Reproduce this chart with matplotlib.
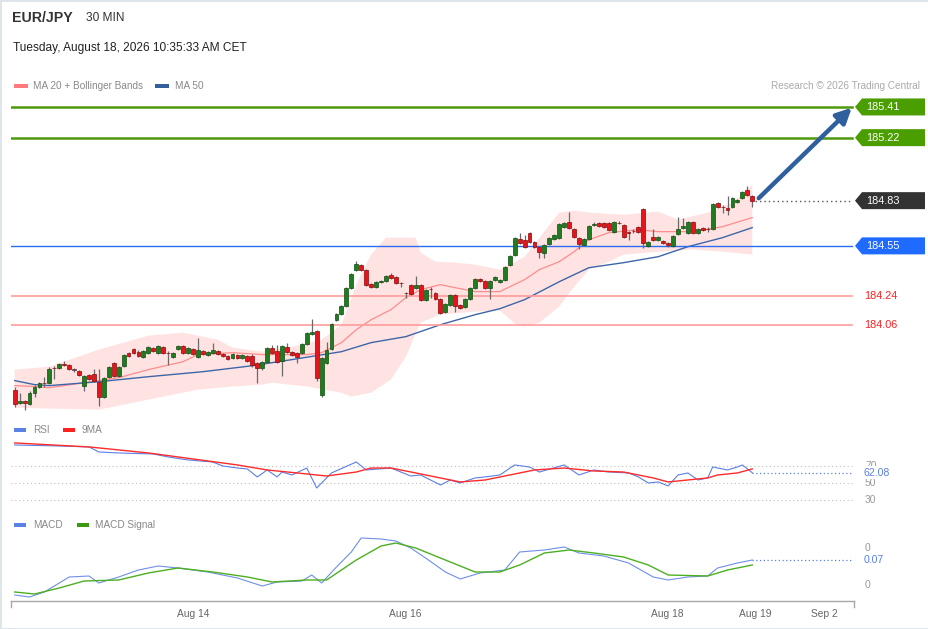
import numpy as np
import matplotlib
matplotlib.use("Agg")
import matplotlib.pyplot as plt
from matplotlib.patches import Polygon, Rectangle

plt.rcParams['font.family'] = ['Liberation Sans', 'DejaVu Sans']

# ---------------- data ----------------
opens = [183.660,183.579,183.592,183.573,183.641,183.679,183.703,183.703,183.796,183.796,
         183.821,183.815,183.784,183.778,183.685,183.753,183.759,183.709,183.617,183.740,
         183.827,183.747,183.809,183.889,183.914,183.895,183.864,183.889,183.920,183.889,
         183.926,183.889,183.864,183.914,183.932,183.889,183.914,183.864,183.901,183.877,
         183.889,183.901,183.883,183.870,183.858,183.877,183.858,183.870,183.870,183.827,
         183.796,183.833,183.920,183.901,183.840,183.926,183.895,183.889,183.889,183.945,
         184.007,184.025,183.629,183.827,183.914,184.093,184.130,184.180,184.291,184.403,
         184.434,184.403,184.316,184.298,184.328,184.335,184.372,184.359,184.322,184.260,
         184.310,184.291,184.310,184.217,184.285,184.260,184.223,184.143,184.186,184.248,
         184.186,184.174,184.223,184.291,184.347,184.335,184.291,184.341,184.328,184.341,
         184.434,184.496,184.595,184.588,184.632,184.576,184.545,184.508,184.564,184.595,
         184.601,184.669,184.700,184.656,184.601,184.557,184.595,184.681,184.694,184.694,
         184.694,184.638,184.694,184.681,184.638,184.644,184.669,184.780,184.551,184.607,
         184.588,184.582,184.570,184.551,184.626,184.663,184.632,184.700,184.632,184.663,
         184.656,184.656,184.817,184.793,184.787,184.793,184.824,184.848,184.898,184.861]
highs = [183.679,183.641,183.598,183.654,183.691,183.709,183.740,183.802,183.809,183.827,
         183.840,183.821,183.796,183.784,183.753,183.759,183.790,183.790,183.740,183.809,
         183.833,183.809,183.883,183.895,183.920,183.908,183.908,183.932,183.926,183.939,
         183.932,183.901,183.895,183.939,183.939,183.926,183.920,183.982,183.908,183.901,
         183.951,183.908,183.889,183.877,183.889,183.883,183.883,183.877,183.883,183.833,
         183.840,183.926,183.939,183.939,183.939,183.951,183.901,183.895,183.951,184.019,
         184.099,184.031,183.864,183.957,184.074,184.136,184.186,184.297,184.384,184.458,
         184.440,184.409,184.322,184.335,184.341,184.372,184.384,184.366,184.328,184.266,
         184.316,184.366,184.316,184.285,184.298,184.266,184.229,184.198,184.254,184.254,
         184.192,184.229,184.297,184.353,184.353,184.341,184.341,184.366,184.347,184.427,
         184.496,184.607,184.632,184.619,184.638,184.582,184.551,184.564,184.607,184.626,
         184.694,184.700,184.762,184.663,184.607,184.601,184.681,184.700,184.700,184.700,
         184.700,184.706,184.706,184.687,184.644,184.656,184.675,184.786,184.582,184.656,
         184.613,184.588,184.576,184.619,184.731,184.725,184.706,184.706,184.663,184.669,
         184.669,184.817,184.824,184.805,184.861,184.855,184.842,184.892,184.923,184.867]
lows = [183.555,183.573,183.536,183.567,183.617,183.672,183.679,183.697,183.728,183.790,
        183.809,183.784,183.772,183.747,183.654,183.722,183.709,183.561,183.610,183.734,
        183.740,183.740,183.802,183.864,183.883,183.864,183.858,183.883,183.895,183.883,
        183.883,183.815,183.858,183.908,183.883,183.883,183.877,183.858,183.877,183.870,
        183.883,183.877,183.864,183.846,183.852,183.852,183.852,183.833,183.802,183.703,
        183.784,183.827,183.883,183.827,183.747,183.889,183.870,183.827,183.883,183.939,
        184.000,183.716,183.617,183.821,183.908,184.087,184.124,184.174,184.285,184.397,
        184.397,184.304,184.291,184.291,184.322,184.328,184.347,184.316,184.298,184.229,
        184.248,184.285,184.211,184.211,184.229,184.217,184.130,184.136,184.180,184.143,
        184.161,184.167,184.217,184.285,184.328,184.285,184.223,184.335,184.322,184.335,
        184.428,184.489,184.564,184.539,184.570,184.539,184.477,184.477,184.557,184.588,
        184.595,184.663,184.656,184.601,184.533,184.551,184.588,184.675,184.669,184.663,
        184.644,184.632,184.687,184.601,184.588,184.632,184.632,184.539,184.545,184.582,
        184.582,184.564,184.545,184.545,184.619,184.656,184.626,184.626,184.626,184.644,
        184.638,184.650,184.787,184.756,184.743,184.787,184.817,184.842,184.861,184.793]
closes = [183.573,183.592,183.579,183.641,183.679,183.703,183.700,183.790,183.793,183.821,
          183.815,183.790,183.782,183.753,183.747,183.728,183.716,183.617,183.734,183.802,
          183.747,183.802,183.877,183.870,183.889,183.870,183.901,183.926,183.901,183.932,
          183.889,183.886,183.889,183.932,183.889,183.920,183.883,183.908,183.883,183.895,
          183.908,183.883,183.870,183.852,183.883,183.858,183.877,183.840,183.815,183.796,
          183.833,183.920,183.889,183.833,183.932,183.895,183.877,183.864,183.945,184.013,
          184.019,183.734,183.858,183.908,184.068,184.130,184.180,184.291,184.378,184.440,
          184.403,184.310,184.298,184.328,184.335,184.366,184.353,184.322,184.319,184.257,
          184.254,184.310,184.217,184.279,184.282,184.223,184.136,184.192,184.248,184.180,
          184.167,184.223,184.291,184.347,184.335,184.291,184.335,184.359,184.341,184.421,
          184.489,184.601,184.570,184.545,184.576,184.545,184.514,184.557,184.601,184.619,
          184.687,184.694,184.663,184.607,184.564,184.595,184.675,184.687,184.675,184.669,
          184.650,184.700,184.691,184.607,184.632,184.641,184.638,184.570,184.576,184.588,
          184.607,184.570,184.557,184.613,184.656,184.675,184.700,184.632,184.656,184.650,
          184.653,184.811,184.793,184.790,184.774,184.848,184.836,184.886,184.867,184.830]

ma20_idx = [0,4,7,14,21,27,34,37,44,50,59,62,66,69,72,76,79,82,86,89,93,98,103,106,110,113,116,120,126,130,137,143,149]
ma20_val = [183.685,183.679,183.672,183.703,183.734,183.784,183.833,183.877,183.889,183.877,183.877,183.889,
            183.951,184.031,184.093,184.155,184.229,184.279,184.310,184.291,184.267,184.267,184.341,184.403,
            184.452,184.514,184.588,184.632,184.650,184.638,184.638,184.669,184.725]
ma50_idx = [0,4,7,17,27,38,48,56,66,72,79,86,93,98,103,110,116,123,130,136,143,149]
ma50_val = [183.716,183.691,183.685,183.709,183.740,183.771,183.808,183.846,183.895,183.951,183.988,
            184.062,184.124,184.161,184.217,184.328,184.415,184.446,184.483,184.545,184.601,184.663]
bb_up_idx = [0,7,17,27,34,41,44,50,56,62,66,69,72,75,81,82,85,89,93,98,103,110,113,116,123,130,134,140,145,149]
bb_up_val = [183.784,183.802,183.908,183.994,184.013,183.969,183.920,183.895,183.926,183.969,184.062,184.310,
             184.496,184.601,184.601,184.508,184.452,184.446,184.434,184.403,184.483,184.756,184.768,184.756,
             184.743,184.762,184.712,184.756,184.817,184.929]
bb_lo_idx = [0,17,27,37,44,50,52,59,66,68,72,76,79,82,86,93,98,101,103,106,110,113,116,120,123,130,137,143,149]
bb_lo_val = [183.548,183.536,183.598,183.660,183.679,183.691,183.703,183.679,183.641,183.617,183.641,183.722,
             183.864,184.075,184.124,184.143,184.150,184.070,184.050,184.075,184.174,184.297,184.403,184.452,
             184.496,184.514,184.527,184.514,184.496]

rsi_idx = [0,9,15,17,21,28,31,35,40,42,45,47,49,51,53,54,56,59,61,64,69,71,76,80,82,86,88,90,93,95,
           98,101,104,106,111,114,117,120,124,126,128,130,132,134,136,138,140,141,144,146,147,149]
rsi_val = [94.7,93.5,92.4,86.5,85.3,84.1,80.6,77.1,74.7,70.0,67.6,66.5,57.1,65.3,57.1,62.9,59.4,67.6,44.1,61.8,
           74.7,65.3,67.6,58.2,59.4,47.6,53.5,50.0,55.9,57.1,59.4,71.2,68.8,62.9,71.2,59.4,65.3,62.9,61.8,57.1,
           50.0,51.2,46.5,59.4,61.8,53.5,55.9,68.8,65.3,68.8,71.2,62.08]
rsima_idx = [0,15,27,33,45,51,57,63,69,72,76,81,87,90,95,100,105,111,117,123,129,132,140,142,146,149]
rsima_val = [97.1,92.4,85.3,80.6,71.2,65.3,61.8,58.2,62.9,67.6,67.6,61.8,54.7,51.2,53.5,59.4,65.3,67.6,
             64.1,62.9,55.9,51.2,55.9,59.4,61.8,66.5]

macd_idx = [0,3,6,9,11,15,17,21,25,29,33,39,45,50,53,58,60,62,65,68,70,74,77,80,83,87,90,94,99,102,
            107,111,114,119,124,129,132,136,140,142,146,149]
macd_val = [-0.105,-0.115,-0.09,-0.045,-0.015,-0.01,-0.045,-0.015,0.02,0.04,0.03,0.01,-0.02,-0.06,-0.04,
            -0.035,-0.005,-0.045,0.035,0.11,0.18,0.175,0.165,0.13,0.08,0.01,-0.025,0.005,0.02,0.11,
            0.12,0.135,0.105,0.09,0.055,-0.015,-0.03,-0.015,-0.01,0.03,0.055,0.07]
sig_idx = [0,4,9,14,21,27,33,40,47,52,59,63,69,74,77,81,87,93,98,102,107,112,117,123,128,132,140,144,149]
sig_val = [-0.09,-0.10,-0.07,-0.035,-0.03,0.005,0.03,0.01,-0.015,-0.04,-0.03,-0.03,0.07,0.14,0.155,
           0.13,0.07,0.01,0.01,0.045,0.105,0.12,0.105,0.085,0.045,-0.005,-0.01,0.02,0.045]

levels_green = [185.41, 185.22]
level_blue = 184.55
levels_red = [184.24, 184.06]
rsi_levels = [70, 50, 30]
macd_tick_vals = [0.13, -0.055]
macd_tick_labels = ["0", "0"]
date_ticks = [36.1, 78.8, 131.8, 149.5, 163.5]
date_labels = ["Aug 14", "Aug 16", "Aug 18", "Aug 19", "Sep 2"]

# ---------------- figure ----------------
W, H = 929, 629
fig = plt.figure(figsize=(W/100, H/100), dpi=100, facecolor='white')

def fx(px):
    return px / W

def fy(py):
    return 1 - py / H

XL = (-0.75, 169.55)
left, width = fx(11), 843 / W

ax = fig.add_axes([left, fy(415), width, 320 / H])
ax_r = fig.add_axes([left, fy(505), width, 67 / H])
ax_m = fig.add_axes([left, fy(601), width, 66 / H])
for a in (ax, ax_r, ax_m):
    a.set_xlim(*XL)
    a.set_facecolor('none')
    for s in a.spines.values():
        s.set_visible(False)
    a.set_yticks([])
    a.set_xticks([])

ax.set_ylim(183.503, 185.484)
ax_r.set_ylim(24.1, 102.9)
ax_m.set_ylim(-0.135, 0.195)

xend = 169.15
xfrac_end = (xend - XL[0]) / (XL[1] - XL[0])

# Bollinger band fill
poly_x = list(bb_up_idx) + list(bb_lo_idx)[::-1]
poly_y = list(bb_up_val) + list(bb_lo_val)[::-1]
ax.fill(poly_x, poly_y, color='#ffe3e3', lw=0, zorder=1)
ax.plot(ma20_idx, ma20_val, color='#ff8c8c', lw=0.9, zorder=2)
ax.plot(ma50_idx, ma50_val, color='#3d66a8', lw=1.0, zorder=2)

# levels
for lv in levels_green:
    ax.axhline(lv, xmin=0, xmax=xfrac_end, color='#4f9a0c', lw=1.8, zorder=2)
ax.axhline(level_blue, xmin=0, xmax=xfrac_end, color='#2a6df0', lw=1.0, zorder=2)
for lv in levels_red:
    ax.axhline(lv, xmin=0, xmax=xfrac_end, color='#ff9c9c', lw=1.2, zorder=2)

# candles
o = np.array(opens); c = np.array(closes); h = np.array(highs); l = np.array(lows)
idx = np.arange(len(o))
ax.vlines(idx, l, h, color='#6a6a6a', lw=0.9, zorder=3)
up = c > o + 0.002
dn = c < o - 0.002
dj = ~(up | dn)
ax.bar(idx[up], (c - o)[up], bottom=o[up], width=0.78, color='#1f7d1f', edgecolor='#114d11', lw=0.5, zorder=4)
ax.bar(idx[dn], (o - c)[dn], bottom=c[dn], width=0.78, color='#e8141c', edgecolor='#8a0a0a', lw=0.5, zorder=4)
ax.bar(idx[dj], np.abs(c - o)[dj] + 0.002, bottom=np.minimum(o, c)[dj] - 0.001, width=0.78,
       color='#5a3a3a', edgecolor='#5a3a3a', lw=0.5, zorder=4)

last = closes[-1]
ax.hlines(last, idx[-1] + 0.6, xend, color='#555555', lw=1.0, linestyles=(0, (1, 2.2)), zorder=2)

# target arrow
ax.annotate('', xy=(169.1, 185.405), xytext=(150.3, 184.845),
            arrowprops=dict(arrowstyle='-|>,head_length=0.9,head_width=0.45', color='#2f5f9c',
                            lw=3.2, shrinkA=0, shrinkB=0), zorder=6, annotation_clip=False)

# ---------------- right tags ----------------
def ypix(a, v):
    return a.transData.transform((0, v))[1]   # display pixels, origin bottom

def tag(a, v, text, color):
    yc = ypix(a, v)
    pts = [(855, yc), (862, yc + 8.5), (925, yc + 8.5), (925, yc - 8.5), (862, yc - 8.5)]
    pts = [(px / W, py / H) for px, py in pts]
    fig.add_artist(Polygon(pts, closed=True, transform=fig.transFigure, facecolor=color,
                           edgecolor='none', zorder=5))
    fig.text(fx(866), yc / H, text, color='white', fontsize=7.8, va='center', ha='left', zorder=6)

for lv in levels_green:
    tag(ax, lv, f"{lv:.2f}", '#4a9e00')
tag(ax, last, f"{last:.2f}", '#333333')
tag(ax, level_blue, f"{level_blue:.2f}", '#1f6bff')
for lv in levels_red:
    fig.text(fx(864), ypix(ax, lv) / H, f"{lv:.2f}", color='#ff2020', fontsize=7.8, va='center', ha='left')

# ---------------- RSI ----------------
for lv in rsi_levels:
    ax_r.axhline(lv, xmin=0, xmax=xfrac_end, color='#bdbdbd', lw=0.8, ls=(0, (1, 2.5)))
    fig.text(fx(865), ypix(ax_r, lv) / H, str(lv), color='#999999', fontsize=7.4, va='center', ha='left')
ax_r.plot(rsi_idx, rsi_val, color='#5b80e6', lw=0.8, zorder=3)
ax_r.plot(rsima_idx, rsima_val, color='#ff2a2a', lw=1.0, zorder=4)
ax_r.hlines(rsi_val[-1], rsi_idx[-1], xend, color='#5b80e6', lw=0.9, linestyles=(0, (1, 2)))
fig.text(fx(864), ypix(ax_r, rsi_val[-1]) / H, f"{rsi_val[-1]:.2f}", color='#5b80e6', fontsize=7.6,
         va='center', ha='left', zorder=7,
         bbox=dict(boxstyle='square,pad=0.12', facecolor='white', edgecolor='none'))

# ---------------- MACD ----------------
ax_m.plot(macd_idx, macd_val, color='#6f8fe8', lw=0.8, zorder=3)
ax_m.plot(sig_idx, sig_val, color='#4caf20', lw=1.0, zorder=3)
ax_m.hlines(macd_val[-1], macd_idx[-1], xend, color='#5b80e6', lw=0.9, linestyles=(0, (1, 2)))
fig.text(fx(864), ypix(ax_m, macd_val[-1]) / H, f"{macd_val[-1]:.2f}", color='#5b80e6', fontsize=7.6,
         va='center', ha='left')
for v, lab in zip(macd_tick_vals, macd_tick_labels):
    fig.text(fx(865), ypix(ax_m, v) / H, lab, color='#999999', fontsize=7.4, va='center', ha='left')

# x axis
ax_m.spines['bottom'].set_visible(True)
ax_m.spines['bottom'].set_color('#a8a8a8')
ax_m.spines['bottom'].set_linewidth(1.0)
ax_m.set_xticks(date_ticks)
ax_m.set_xticklabels(date_labels, fontsize=7.4, color='#666666')
ax_m.tick_params(axis='x', length=0, pad=6)
ax_m.plot([0, 0], [0, -0.09], transform=ax_m.transAxes, color='#a8a8a8', lw=1, clip_on=False)
ax_m.plot([1, 1], [0, -0.09], transform=ax_m.transAxes, color='#a8a8a8', lw=1, clip_on=False)

# ---------------- header & legends ----------------
fig.text(fx(12), fy(18), "EUR/JPY", fontsize=10.2, fontweight='bold', color='#333333', va='center')
fig.text(fx(86), fy(18), "30 MIN", fontsize=8.6, color='#333333', va='center')
fig.text(fx(13), fy(48), "Tuesday, August 18, 2026 10:35:33 AM CET", fontsize=8.6, color='#222222', va='center')

def legend_item(px, py, color, label, tx, w=14):
    fig.add_artist(Rectangle((fx(px), fy(py + 2)), w / W, 4.5 / H, transform=fig.transFigure,
                             facecolor=color, edgecolor='none'))
    fig.text(fx(tx), fy(py), label, fontsize=7.2, color='#888888', va='center')

legend_item(14, 86, '#ff7b7b', "MA 20 + Bollinger Bands", 33)
legend_item(155, 86, '#345f9c', "MA 50", 175)
fig.text(fx(920), fy(86), "Research \u00a9 2026 Trading Central", fontsize=7.2, color='#aaaaaa',
         va='center', ha='right')
legend_item(14, 430, '#5b80e6', "RSI", 33, w=12)
legend_item(63, 430, '#ff2020', "9MA", 82, w=12)
legend_item(14, 525, '#5b80e6', "MACD", 33, w=12)
legend_item(77, 525, '#3c9a10', "MACD Signal", 95, w=12)

# frame
fig.add_artist(Rectangle((0, 0), 1, 1, transform=fig.transFigure, fill=False,
                         edgecolor='#dde4ea', lw=2))

fig.savefig("out.png", dpi=100, facecolor='white')
